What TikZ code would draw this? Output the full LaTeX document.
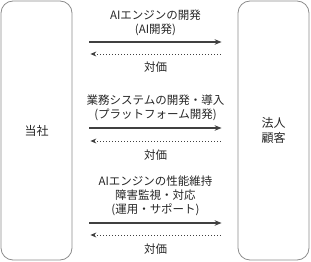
\documentclass[tikz,border=0pt]{standalone}
\usepackage{fontspec}
\setmainfont{Noto Sans CJK JP}
\usetikzlibrary{arrows.meta}
\begin{document}
\begin{tikzpicture}[x=1pt,y=-1pt,
  party/.style={draw=black!45, line width=0.8pt, rounded corners=12pt,
    minimum width=71pt, minimum height=259pt, inner sep=0pt,
    font=\fontsize{12}{14.5}\selectfont, text=black!85, align=center},
  lbl/.style={font=\fontsize{11.5}{14}\selectfont, text=black!85, align=center, inner sep=0pt},
  flow/.style={draw=black!75, line width=1.3pt, -{Stealth[length=7pt,width=5.5pt]},
    shorten <=17pt, shorten >=16pt},
  pay/.style={draw=black!75, line width=0.9pt, dash pattern=on 0.9pt off 2.1pt,
    {Stealth[length=6pt,width=5pt]}-, shorten <=18pt, shorten >=16pt}]
\useasboundingbox (0,0) rectangle (311,262);
\node[party] (us) at (36.5,130.5) {当社};
\node[party] (cl) at (273.5,130.5) {法人\\顧客};
% group 1
\node[lbl] (t1) at (155.5,23) {AIエンジンの開発\\(AI開発)};
\draw[flow] (us.east |- 0,42) -- (cl.west |- 0,42);
\draw[pay] (us.east |- 0,54) -- (cl.west |- 0,54);
\node[lbl] (p1) at (155.5,67) {対価};
% group 2
\node[lbl] (t2) at (155.5,107.5) {業務システムの開発・導入\\(プラットフォーム開発)};
\draw[flow] (us.east |- 0,128) -- (cl.west |- 0,128);
\draw[pay] (us.east |- 0,141) -- (cl.west |- 0,141);
\node[lbl] (p2) at (155.5,155) {対価};
% group 3
\node[lbl] (t3) at (155.5,196) {AIエンジンの性能維持\\障害監視・対応\\(運用・サポート)};
\draw[flow] (us.east |- 0,223) -- (cl.west |- 0,223);
\draw[pay] (us.east |- 0,235) -- (cl.west |- 0,235);
\node[lbl] (p3) at (155.5,249) {対価};
\end{tikzpicture}
\end{document}
